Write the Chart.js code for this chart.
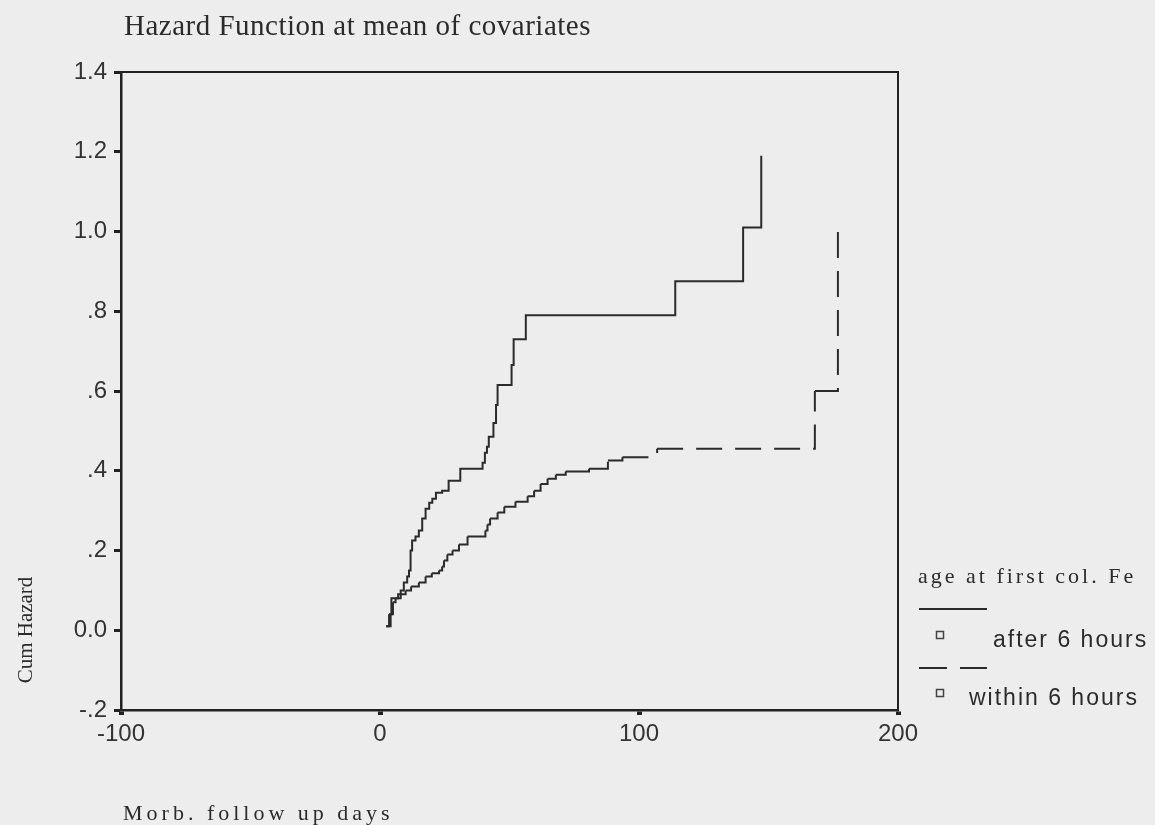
<!DOCTYPE html>
<html>
<head>
<meta charset="utf-8">
<script src="https://cdn.jsdelivr.net/npm/chart.js@4.4.1/dist/chart.umd.min.js"></script>
<style>
  html, body { margin: 0; padding: 0; background: #ededed; }
  #wrap { width: 1155px; height: 825px; position: relative; }
</style>
</head>
<body>
<div id="wrap"><canvas id="hazard"></canvas></div>
<script>
// ------------ DATA -----------------------------------
const afterDays = [2.4, 4.1, 4.4, 7.0, 8.0, 9.2, 10.5, 11.2, 11.8, 12.4, 13.7, 15.0, 16.3, 17.6, 19.0, 20.2,
  21.6, 24.0, 26.5, 31.0, 39.6, 40.5, 41.3, 42.0, 43.8, 44.8, 45.4, 50.8, 51.6, 56.3, 114.0, 140.2, 147.2];
const afterHazard = [0.01, 0.04, 0.08, 0.09, 0.10, 0.12, 0.135, 0.15, 0.20, 0.225, 0.235, 0.25, 0.28, 0.305, 0.32, 0.33,
  0.345, 0.35, 0.375, 0.405, 0.42, 0.445, 0.46, 0.485, 0.52, 0.565, 0.615, 0.665, 0.73, 0.79, 0.875, 1.01, 1.19];

const withinDays = [2.4, 3.5, 5.0, 6.0, 8.0, 9.9, 12.0, 15.0, 17.6, 20.0, 22.8, 24.0, 24.7, 26.0, 28.0, 30.5,
  33.8, 40.7, 41.5, 42.5, 45.4, 48.0, 52.3, 57.0, 59.5, 62.0, 64.7, 67.9, 71.7, 80.7, 88.0, 93.6, 107.0, 167.9, 176.8];
const withinHazard = [0.01, 0.04, 0.07, 0.08, 0.09, 0.10, 0.11, 0.12, 0.135, 0.143, 0.15, 0.16, 0.175, 0.19, 0.20, 0.215,
  0.235, 0.25, 0.265, 0.28, 0.295, 0.31, 0.322, 0.336, 0.35, 0.367, 0.38, 0.39, 0.398, 0.405, 0.426, 0.434, 0.455, 0.60, 1.01];

const seriesNames = ["after 6 hours", "within 6 hours"];
const xTickLabels = ["-100", "0", "100", "200"];
const yTickLabels = ["-.2", "0.0", ".2", ".4", ".6", ".8", "1.0", "1.2", "1.4"];

const toPoints = (xs, ys) => xs.map((x, i) => ({ x: x, y: ys[i] }));

const ink = '#2b2b2b';
const serif = '"Liberation Serif", "Times New Roman", serif';
const sans = '"Liberation Sans", Arial, sans-serif';

// SPSS restarts the dash at every step, so short steps look solid
const dashPerStep = {
  borderDashOffset: ctx => (ctx.p0DataIndex % 2 ? 0.001 : 0)
};

// ------------ TEXT, FRAME AND LEGEND ---------------
const decor = {
  id: 'decor',
  beforeDraw(chart) {
    const ctx = chart.ctx;
    ctx.save();
    ctx.fillStyle = '#ededed';
    ctx.fillRect(0, 0, chart.width, chart.height);
    ctx.restore();
  },
  afterDraw(chart) {
    const ctx = chart.ctx;
    const a = chart.chartArea;
    ctx.save();
    ctx.strokeStyle = '#222';
    ctx.lineWidth = 2;
    ctx.beginPath();
    ctx.moveTo(a.left, a.top);
    ctx.lineTo(a.right, a.top);
    ctx.lineTo(a.right, a.bottom);
    ctx.stroke();

    ctx.fillStyle = ink;
    ctx.textBaseline = 'alphabetic';
    ctx.textAlign = 'left';

    ctx.font = '29px ' + serif;
    ctx.letterSpacing = '0.5px';
    ctx.fillText('Hazard Function at mean of covariates', 124, 35);

    ctx.font = '22px ' + serif;
    ctx.letterSpacing = '4px';
    ctx.fillText('Morb. follow up days', 123, 820);

    ctx.letterSpacing = '0px';
    ctx.save();
    ctx.translate(32, 630);
    ctx.rotate(-Math.PI / 2);
    ctx.textAlign = 'center';
    ctx.font = '21px ' + serif;
    ctx.fillText('Cum Hazard', 0, 0);
    ctx.restore();

    // legend
    ctx.font = '22px ' + serif;
    ctx.letterSpacing = '3px';
    ctx.fillText('age at first col. Fe', 918, 583);

    ctx.strokeStyle = ink;
    ctx.lineWidth = 2;
    ctx.beginPath();
    ctx.moveTo(919, 609); ctx.lineTo(987, 609);
    ctx.moveTo(919, 668); ctx.lineTo(947, 668);
    ctx.moveTo(960, 668); ctx.lineTo(987, 668);
    ctx.stroke();

    ctx.lineWidth = 1.5;
    ctx.strokeStyle = '#444';
    ctx.strokeRect(936.5, 631.5, 7, 7);
    ctx.strokeRect(936.5, 689.5, 7, 7);

    ctx.font = '23px ' + sans;
    ctx.letterSpacing = '2px';
    ctx.fillText(seriesNames[0], 993, 647);
    ctx.fillText(seriesNames[1], 969, 705);
    ctx.restore();
  }
};

new Chart(document.getElementById('hazard'), {
  type: 'line',
  data: {
    datasets: [
      {
        label: seriesNames[0],
        data: toPoints(afterDays, afterHazard),
        borderColor: ink,
        borderWidth: 2,
        pointRadius: 0,
        stepped: true,
        fill: false
      },
      {
        label: seriesNames[1],
        data: toPoints(withinDays, withinHazard),
        borderColor: ink,
        borderWidth: 2,
        borderDash: [26, 13],
        pointRadius: 0,
        stepped: true,
        fill: false,
        segment: dashPerStep
      }
    ]
  },
  options: {
    responsive: true,
    maintainAspectRatio: false,
    animation: false,
    layout: { padding: { left: 0, top: 72, right: 257, bottom: 0 } },
    plugins: {
      legend: { display: false },
      tooltip: { enabled: false }
    },
    scales: {
      x: {
        type: 'linear',
        min: -100,
        max: 200,
        afterFit: s => { s.height = 115; },
        ticks: {
          stepSize: 100,
          color: '#333',
          padding: 5,
          maxRotation: 0,
          font: { family: sans, size: 24 },
          callback: (v, i) => xTickLabels[i]
        },
        grid: { drawOnChartArea: false, drawTicks: true, tickLength: 5, tickWidth: 5, tickColor: '#222' },
        border: { display: true, color: '#222', width: 2.5 }
      },
      y: {
        min: -0.2,
        max: 1.4,
        afterFit: s => { s.width = 121; },
        ticks: {
          stepSize: 0.2,
          color: '#333',
          padding: 7,
          font: { family: sans, size: 24 },
          callback: (v, i) => yTickLabels[i]
        },
        grid: { drawOnChartArea: false, drawTicks: true, tickLength: 7, tickWidth: 3, tickColor: '#222' },
        border: { display: true, color: '#222', width: 2.5 }
      }
    }
  },
  plugins: [decor]
});
</script>
</body>
</html>
